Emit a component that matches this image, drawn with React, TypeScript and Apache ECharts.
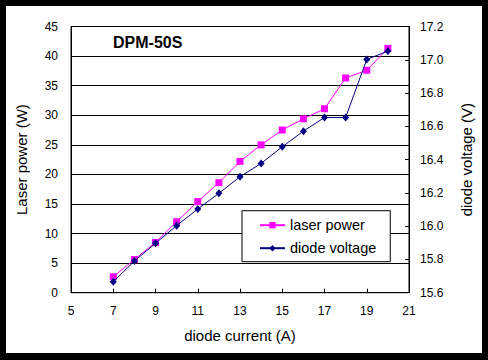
import React, { useEffect, useRef } from "react";
import * as echarts from "echarts";

const currents = [7, 8, 9, 10, 11, 12, 13, 14, 15, 16, 17, 18, 19, 20];
const laserPower = [2.7, 5.6, 8.5, 12.0, 15.4, 18.6, 22.2, 25.0, 27.5, 29.4, 31.1, 36.3, 37.6, 41.3];
const diodeVoltage = [15.666, 15.79, 15.897, 16.003, 16.103, 16.197, 16.297, 16.377, 16.477, 16.571, 16.653, 16.653, 17.002, 17.052];
const titleText = "DPM-50S";

export default function App() {
  const ref = useRef<HTMLDivElement>(null);
  useEffect(() => {
    if (!ref.current) return;
    const chart = echarts.init(ref.current, null, { renderer: "svg" });
    const font = "Arial, 'Liberation Sans', sans-serif";
    chart.setOption({
      animation: false,
      backgroundColor: "#ffffff",
      textStyle: { fontFamily: font, color: "#000" },
      title: {
        text: titleText,
        left: 107,
        top: 28,
        padding: 0,
        textStyle: { fontFamily: font, fontSize: 16, fontWeight: "bold", color: "#000" },
      },
      grid: {
        left: 60,
        top: 20.5,
        right: 72,
        bottom: 60.3,
        show: true,
        borderColor: "#000",
        borderWidth: 1,
        backgroundColor: "transparent",
      },
      legend: {
        orient: "vertical",
        left: 236,
        top: 204.7,
        padding: [7, 14, 6, 17],
        itemGap: 8,
        itemWidth: 25,
        itemHeight: 8,
        borderColor: "#000",
        borderWidth: 1,
        backgroundColor: "#fff",
        textStyle: { fontFamily: font, fontSize: 14.5, color: "#000" },
        data: ["laser power", "diode voltage"],
      },
      xAxis: {
        type: "value",
        min: 5,
        max: 21,
        interval: 2,
        name: "diode current (A)",
        nameLocation: "middle",
        nameGap: 35,
        nameTextStyle: { fontFamily: font, fontSize: 15, color: "#000" },
        axisLine: { show: true, lineStyle: { color: "#000", width: 1 } },
        axisTick: { show: true, inside: true, length: 4, lineStyle: { color: "#000" } },
        axisLabel: { fontFamily: font, fontSize: 12, color: "#000", margin: 12 },
        splitLine: { show: false },
      },
      yAxis: [
        {
          type: "value",
          min: 0,
          max: 45,
          interval: 5,
          name: "Laser power (W)",
          nameLocation: "middle",
          nameRotate: 90,
          nameGap: 42,
          nameTextStyle: { fontFamily: font, fontSize: 15, color: "#000" },
          axisLine: { show: true, lineStyle: { color: "#000", width: 1 } },
          axisTick: { show: false },
          axisLabel: { fontFamily: font, fontSize: 12, color: "#000", margin: 13 },
          splitLine: { show: true, lineStyle: { color: "#000", width: 1 } },
        },
        {
          type: "value",
          min: 15.6,
          max: 17.2,
          interval: 0.2,
          position: "right",
          name: "diode voltage (V)",
          nameLocation: "middle",
          nameRotate: 90,
          nameGap: 50,
          nameTextStyle: { fontFamily: font, fontSize: 15, color: "#000" },
          axisLine: { show: true, lineStyle: { color: "#000", width: 1 } },
          axisTick: { show: true, inside: true, length: 4, lineStyle: { color: "#000" } },
          axisLabel: {
            fontFamily: font,
            fontSize: 12,
            color: "#000",
            margin: 11,
            formatter: (v: number) => v.toFixed(1),
          },
          splitLine: { show: false },
        },
      ],
      series: [
        {
          name: "laser power",
          type: "line",
          yAxisIndex: 0,
          data: currents.map((c, i) => [c, laserPower[i]]),
          symbol: "rect",
          symbolSize: 7,
          itemStyle: { color: "#FF00FF" },
          lineStyle: { color: "#FF00FF", width: 1 },
          z: 3,
        },
        {
          name: "diode voltage",
          type: "line",
          yAxisIndex: 1,
          data: currents.map((c, i) => [c, diodeVoltage[i]]),
          symbol: "diamond",
          symbolSize: [7, 8],
          itemStyle: { color: "#000080" },
          lineStyle: { color: "#000080", width: 1 },
          z: 4,
        },
      ],
    });
    return () => chart.dispose();
  }, []);

  return (
    <div style={{ position: "fixed", left: 0, top: 0, width: 488, height: 360, background: "#000" }}>
      <div style={{ position: "absolute", left: 6, top: 6, width: 476, height: 347, background: "#fff" }}>
        <div ref={ref} style={{ width: 476, height: 347 }} />
      </div>
    </div>
  );
}
